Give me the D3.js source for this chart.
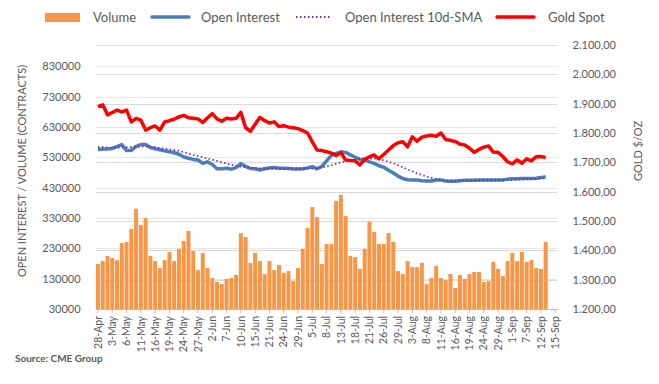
<!DOCTYPE html>
<html>
<head>
<meta charset="utf-8">
<title>Gold futures</title>
<script src="https://d3js.org/d3.v7.min.js"></script>
<style>
body { margin:0; background:#fff; }
text { font-family: Lato, "Open Sans", sans-serif; fill:#595959; }
</style>
</head>
<body>
<svg id="chart" width="659" height="384"></svg>
<script>
// trading days, 28-Apr to 15-Sep
var days = ["28-Apr","29-Apr",
  "2-May","3-May","4-May","5-May","6-May","9-May","10-May","11-May","12-May","13-May","16-May","17-May","18-May","19-May","20-May","23-May","24-May","25-May","26-May","27-May","31-May",
  "1-Jun","2-Jun","3-Jun","6-Jun","7-Jun","8-Jun","9-Jun","10-Jun","13-Jun","14-Jun","15-Jun","16-Jun","17-Jun","21-Jun","22-Jun","23-Jun","24-Jun","27-Jun","28-Jun","29-Jun","30-Jun",
  "1-Jul","5-Jul","6-Jul","7-Jul","8-Jul","11-Jul","12-Jul","13-Jul","14-Jul","15-Jul","18-Jul","19-Jul","20-Jul","21-Jul","22-Jul","25-Jul","26-Jul","27-Jul","28-Jul","29-Jul",
  "1-Aug","2-Aug","3-Aug","4-Aug","5-Aug","8-Aug","9-Aug","10-Aug","11-Aug","12-Aug","15-Aug","16-Aug","17-Aug","18-Aug","19-Aug","22-Aug","23-Aug","24-Aug","25-Aug","26-Aug","29-Aug","30-Aug","31-Aug",
  "1-Sep","2-Sep","6-Sep","7-Sep","8-Sep","9-Sep","12-Sep","13-Sep","14-Sep","15-Sep"];

var volume = [178000,188000,205000,198000,191000,247000,251000,294000,360000,307000,
  330000,205000,188000,165000,191000,218000,188000,228000,254000,287000,
  221000,158000,215000,165000,132000,119000,112000,129000,132000,142000,
  280000,267000,182000,215000,188000,145000,188000,158000,175000,149000,
  155000,122000,165000,228000,297000,366000,333000,178000,244000,244000,
  386000,406000,336000,205000,201000,162000,228000,317000,284000,244000,
  244000,280000,251000,155000,145000,188000,168000,168000,182000,112000,
  132000,172000,132000,125000,145000,99000,142000,129000,145000,152000,
  152000,119000,122000,185000,162000,139000,188000,215000,188000,218000,
  185000,191000,165000,162000,251000];

var openInterest = [555000,557000,557000,559000,565000,572000,552000,553000,566000,572000,
  572000,562000,558000,555000,551000,548000,545000,540000,531000,527000,
  523000,521000,510000,515000,506000,492000,492000,494000,491000,496000,
  509000,500000,493000,492000,488000,492000,495000,496000,494000,494000,
  493000,491000,491000,492000,495000,499000,492000,500000,518000,536000,
  543000,548000,546000,538000,530000,523000,521000,515000,510000,502000,
  497000,487000,478000,468000,460000,456000,455000,455000,453000,452000,
  452000,455000,455000,452000,451000,451000,453000,454000,454000,454000,
  455000,455000,455000,455000,455000,455000,458000,459000,459000,460000,
  460000,460000,461000,463000,466000];

var oiSma = [563000,563000,562000,562000,562000,563000,563000,563000,564000,566000,
  566000,565000,563000,560000,558000,556000,554000,551000,547000,543000,
  538000,534000,530000,526000,522000,518000,513000,509000,505000,502000,
  499000,497000,495000,494000,493000,493000,493000,493000,493000,493000,
  493000,493000,493000,493000,493000,493000,494000,496000,500000,504000,
  509000,513000,517000,520000,523000,525000,526000,526000,526000,524000,
  520000,515000,510000,504000,497000,490000,484000,477000,472000,466000,
  462000,458000,456000,454000,453000,453000,453000,453000,453000,453000,
  454000,454000,454000,454000,454000,455000,455000,456000,457000,457000,
  458000,459000,459000,460000,461000];

var gold = [1890,1896,1862,1870,1878,1872,1878,1838,1850,1844,
  1810,1818,1824,1810,1838,1842,1847,1855,1860,1852,
  1850,1848,1836,1852,1866,1848,1840,1850,1848,1850,
  1870,1818,1806,1830,1853,1842,1834,1838,1822,1825,
  1820,1818,1815,1808,1800,1770,1742,1740,1736,1732,
  1723,1733,1708,1706,1705,1691,1710,1719,1725,1712,
  1727,1742,1757,1767,1770,1753,1787,1772,1786,1790,
  1792,1789,1800,1778,1775,1771,1762,1759,1748,1734,
  1744,1752,1756,1735,1734,1720,1702,1695,1708,1697,
  1712,1705,1719,1720,1716];

var leftTicks = [30000,130000,230000,330000,430000,530000,630000,730000,830000];
var rightTicks = [1200,1300,1400,1500,1600,1700,1800,1900,2000,2100];

var svg = d3.select("#chart");
var plotL = 95.6, plotR = 557.6, plotT = 45, plotB = 309;

var x = d3.scaleBand().domain(days).range([plotL, plotR]).paddingInner(0.16).paddingOuter(0.08);
var yL = d3.scaleLinear().domain([30000, 900000]).range([plotB, plotT]);
var yR = d3.scaleLinear().domain([1200, 2100]).range([plotB, plotT]);
var cx = function(i) { return x(days[i]) + x.bandwidth() / 2; };

// gridlines
var grid = svg.append("g");
grid.selectAll("line.r").data(rightTicks).enter().append("line")
  .attr("x1", plotL).attr("x2", plotR)
  .attr("y1", function(d){ return Math.round(yR(d)) + 0.5; })
  .attr("y2", function(d){ return Math.round(yR(d)) + 0.5; })
  .attr("stroke", "#d9d9d9").attr("stroke-width", 1);
grid.selectAll("line.l").data(leftTicks.slice(1)).enter().append("line")
  .attr("x1", plotL).attr("x2", plotR)
  .attr("y1", function(d){ return Math.round(yL(d)) + 0.5; })
  .attr("y2", function(d){ return Math.round(yL(d)) + 0.5; })
  .attr("stroke", "#e6e6e6").attr("stroke-width", 1);

// bars
svg.append("g").selectAll("rect").data(volume).enter().append("rect")
  .attr("x", function(d, i){ return x(days[i]); })
  .attr("width", x.bandwidth())
  .attr("y", function(d){ return yL(d); })
  .attr("height", function(d){ return plotB - yL(d); })
  .attr("fill", "#F79646");

// x axis
var xAxis = d3.axisBottom(x)
  .tickValues(days.filter(function(d, i){ return i % 3 === 0; }))
  .tickSize(4).tickSizeOuter(0);
var gx = svg.append("g").attr("transform", "translate(0," + plotB + ")").call(xAxis);
gx.select(".domain").attr("stroke", "#bfbfbf");
gx.selectAll(".tick line").attr("stroke", "#bfbfbf");
gx.selectAll(".tick text")
  .attr("transform", "rotate(-90)")
  .attr("x", -7).attr("y", 0).attr("dy", "0.35em")
  .style("text-anchor", "end")
  .attr("font-size", 10.5).attr("fill", "#595959")
  .attr("font-family", "Lato, sans-serif");

// lines
var line = function(sc) {
  return d3.line().x(function(d, i){ return cx(i); }).y(function(d){ return sc(d); }).curve(d3.curveLinear);
};
svg.append("path").datum(openInterest).attr("d", line(yL))
  .attr("fill", "none").attr("stroke", "#4A7EBB").attr("stroke-width", 3.5).attr("stroke-linejoin", "round");
svg.append("path").datum(oiSma).attr("d", line(yL))
  .attr("fill", "none").attr("stroke", "#7030A0").attr("stroke-width", 1.8).attr("stroke-dasharray", "1.5,2.5");
svg.append("path").datum(gold).attr("d", line(yR))
  .attr("fill", "none").attr("stroke", "#FF0000").attr("stroke-width", 3.5).attr("stroke-linejoin", "round");

// left axis
var gl = svg.append("g").attr("transform", "translate(" + (plotL - 12) + ",0)")
  .call(d3.axisLeft(yL).tickValues(leftTicks).tickSize(0).tickFormat(d3.format("d")));
gl.select(".domain").remove();
gl.selectAll("text").attr("font-size", 11).attr("fill", "#595959").attr("font-family", "Lato, sans-serif");

// right axis
var fmtR = function(d) { return d3.format(",.2f")(d).replace(/,/g, "#").replace(".", ",").replace("#", "."); };
var gr = svg.append("g").attr("transform", "translate(" + (plotR + 12) + ",0)")
  .call(d3.axisRight(yR).tickValues(rightTicks).tickSize(0).tickFormat(fmtR));
gr.select(".domain").remove();
gr.selectAll("text").attr("font-size", 11).attr("fill", "#595959").attr("font-family", "Lato, sans-serif");

// axis titles
svg.append("text").attr("transform", "translate(26,171) rotate(-90)")
  .attr("text-anchor", "middle").attr("font-size", 11).text("OPEN INTEREST / VOLUME (CONTRACTS)");
svg.append("text").attr("transform", "translate(642,151) rotate(-90)")
  .attr("text-anchor", "middle").attr("font-size", 11).text("GOLD $/OZ");

// legend
var lg = svg.append("g");
lg.append("rect").attr("x", 45).attr("y", 13).attr("width", 35).attr("height", 9).attr("fill", "#F79646");
lg.append("text").attr("x", 93).attr("y", 22).attr("font-size", 13).text("Volume");
lg.append("line").attr("x1", 152).attr("x2", 189).attr("y1", 17).attr("y2", 17)
  .attr("stroke", "#4A7EBB").attr("stroke-width", 3.5).attr("stroke-linecap", "round");
lg.append("text").attr("x", 201).attr("y", 22).attr("font-size", 13).text("Open Interest");
lg.append("line").attr("x1", 296).attr("x2", 332).attr("y1", 17).attr("y2", 17)
  .attr("stroke", "#7030A0").attr("stroke-width", 1.8).attr("stroke-dasharray", "1.5,2.5");
lg.append("text").attr("x", 345).attr("y", 22).attr("font-size", 13).text("Open Interest 10d-SMA");
lg.append("line").attr("x1", 497).attr("x2", 534).attr("y1", 17).attr("y2", 17)
  .attr("stroke", "#FF0000").attr("stroke-width", 3.5).attr("stroke-linecap", "round");
lg.append("text").attr("x", 548).attr("y", 22).attr("font-size", 13).text("Gold Spot");

// source
svg.append("text").attr("x", 15).attr("y", 362).attr("font-size", 10).attr("font-weight", "bold")
  .attr("fill", "#404040").text("Source: CME Group");
</script>
</body>
</html>
